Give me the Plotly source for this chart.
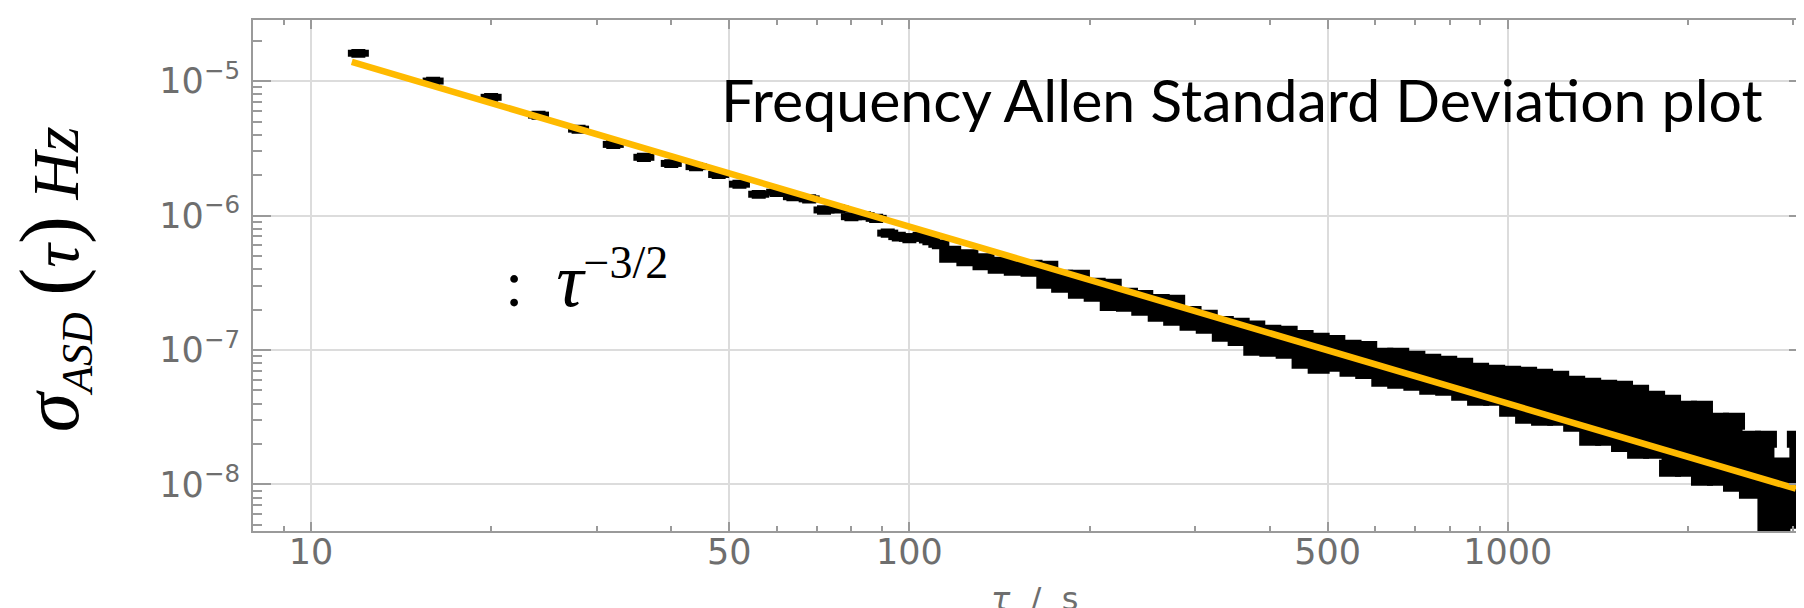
import plotly.graph_objects as go

# ---------------- data ----------------
# sparse part: individual points with small error bars (tau in s)
sparse_tau = [12, 16, 20, 24, 28, 32, 36, 40, 44, 48, 52, 56, 60, 64, 68,
              72, 76, 80, 84, 88, 92, 96, 100, 104, 108, 112]
sparse_sigma = [1.61e-5, 1.00e-5, 7.57e-6, 5.58e-6, 4.39e-6, 3.38e-6, 2.71e-6,
                2.44e-6, 2.31e-6, 2.02e-6, 1.71e-6, 1.44e-6, 1.49e-6, 1.38e-6,
                1.33e-6, 1.10e-6, 1.12e-6, 9.80e-7, 9.97e-7, 9.53e-7, 7.40e-7,
                6.97e-7, 6.77e-7, 6.97e-7, 6.58e-7, 6.11e-7]
sparse_err = [8e-7, 5e-7, 3.8e-7, 2.8e-7, 2.2e-7, 1.7e-7, 1.4e-7, 1.2e-7,
              1.2e-7, 1.0e-7, 9e-8, 7e-8, 8e-8, 7e-8, 7e-8, 6e-8, 6e-8, 5e-8,
              5e-8, 5e-8, 4e-8, 4e-8, 4e-8, 4e-8, 4e-8, 3.5e-8]

# dense part: centre value and error-bar ends
dense_tau = [117, 125, 133, 141, 150, 160, 170, 180, 192, 204, 217, 231, 245,
             261, 277, 295, 314, 334, 355, 377, 401, 427, 454, 483, 513, 546,
             580, 617, 656, 698, 742, 789, 839, 892, 949, 1009, 1073, 1141,
             1214, 1291, 1373, 1460, 1552, 1651, 1756, 1867, 1985, 2111, 2245,
             2388, 2539, 2700, 2871, 3053]
dense_sigma = [5.15e-7, 4.85e-7, 4.53e-7, 4.26e-7, 4.12e-7, 4.05e-7, 3.62e-7,
               3.24e-7, 3.08e-7, 2.80e-7, 2.57e-7, 2.36e-7, 2.24e-7, 2.06e-7,
               1.97e-7, 1.72e-7, 1.62e-7, 1.44e-7, 1.37e-7, 1.22e-7, 1.17e-7,
               1.14e-7, 1.01e-7, 9.45e-8, 9.45e-8, 8.68e-8, 8.46e-8, 7.44e-8,
               7.31e-8, 7.01e-8, 6.60e-8, 6.43e-8, 6.06e-8, 5.56e-8, 5.46e-8,
               4.93e-8, 4.61e-8, 4.45e-8, 4.38e-8, 3.98e-8, 3.47e-8, 3.41e-8,
               3.21e-8, 2.93e-8, 2.78e-8, 2.30e-8, 2.19e-8, 2.02e-8, 1.83e-8,
               1.74e-8, 1.40e-8, 1.00e-8, 8.0e-9, 1.08e-8]
dense_upper = [5.15e-7, 4.85e-7, 4.53e-7, 4.26e-7, 4.12e-7, 4.05e-7, 3.98e-7,
               3.41e-7, 3.41e-7, 2.98e-7, 2.93e-7, 2.51e-7, 2.42e-7, 2.26e-7,
               2.23e-7, 1.84e-7, 1.72e-7, 1.55e-7, 1.50e-7, 1.43e-7, 1.33e-7,
               1.31e-7, 1.22e-7, 1.16e-7, 1.12e-7, 1.03e-7, 1.01e-7, 8.98e-8,
               8.98e-8, 8.53e-8, 8.10e-8, 7.83e-8, 7.56e-8, 6.95e-8, 6.71e-8,
               6.60e-8, 6.49e-8, 6.27e-8, 6.06e-8, 5.56e-8, 5.37e-8, 5.19e-8,
               5.10e-8, 4.77e-8, 4.30e-8, 4.02e-8, 3.62e-8, 3.62e-8, 2.95e-8,
               2.95e-8, 2.17e-8, 2.17e-8, 1.37e-8, 2.17e-8]
dense_lower = [5.15e-7, 4.85e-7, 4.53e-7, 4.26e-7, 4.12e-7, 4.05e-7, 3.30e-7,
               3.08e-7, 2.78e-7, 2.64e-7, 2.26e-7, 2.23e-7, 2.08e-7, 1.88e-7,
               1.75e-7, 1.61e-7, 1.53e-7, 1.33e-7, 1.24e-7, 1.05e-7, 1.03e-7,
               9.95e-8, 8.38e-8, 7.69e-8, 7.96e-8, 7.31e-8, 7.03e-8, 6.16e-8,
               5.95e-8, 5.75e-8, 5.37e-8, 5.28e-8, 4.85e-8, 4.45e-8, 4.45e-8,
               3.69e-8, 3.27e-8, 3.16e-8, 3.16e-8, 2.85e-8, 2.24e-8, 2.24e-8,
               2.02e-8, 1.80e-8, 1.80e-8, 1.32e-8, 1.32e-8, 1.13e-8, 1.13e-8,
               1.02e-8, 9.06e-9, 3.5e-9, 3.5e-9, 5.42e-9]

# fitted power-law line (end points)
fit_tau = [11.7, 3030]
fit_sigma = [1.39e-5, 9.3e-9]

# axis ticks
x_major = [10, 50, 100, 500, 1000]
x_major_text = ["10", "50", "100", "500", "1000"]
x_minor = [9, 20, 30, 40, 60, 70, 80, 90, 200, 300, 400, 600, 700, 800, 900,
           2000, 3000]
y_major = [1e-8, 1e-7, 1e-6, 1e-5]
y_major_text = ["10<sup>\u22128</sup>", "10<sup>\u22127</sup>",
                "10<sup>\u22126</sup>", "10<sup>\u22125</sup>"]
y_minor = [5e-9, 6e-9, 7e-9, 8e-9, 9e-9,
           2e-8, 3e-8, 4e-8, 5e-8, 6e-8, 7e-8, 8e-8, 9e-8,
           2e-7, 3e-7, 4e-7, 5e-7, 6e-7, 7e-7, 8e-7, 9e-7,
           2e-6, 3e-6, 4e-6, 5e-6, 6e-6, 7e-6, 8e-6, 9e-6,
           2e-5]

# ---------------- figure ----------------
err_plus = [u - s for u, s in zip(dense_upper, dense_sigma)]
err_minus = [s - l for s, l in zip(dense_sigma, dense_lower)]

fig = go.Figure()

fig.add_trace(go.Scatter(
    x=sparse_tau, y=sparse_sigma, mode="markers",
    marker=dict(symbol="line-ew", size=15, color="black",
                line=dict(width=7, color="black")),
    error_y=dict(type="data", array=sparse_err, visible=True,
                 color="black", thickness=3, width=7),
    hoverinfo="skip"))

fig.add_trace(go.Scatter(
    x=dense_tau, y=dense_sigma, mode="markers",
    marker=dict(size=2, color="black"),
    error_y=dict(type="data", symmetric=False, array=err_plus,
                 arrayminus=err_minus, visible=True,
                 color="black", thickness=17, width=11),
    hoverinfo="skip"))

fig.add_trace(go.Scatter(
    x=fit_tau, y=fit_sigma, mode="lines",
    line=dict(color="#FFBA00", width=6.5),
    hoverinfo="skip"))

axis_grey = "#9a9a9a"
label_grey = "#6e6e6e"

fig.update_layout(
    width=1804, height=608,
    margin=dict(l=245, r=3, t=12, b=85),
    paper_bgcolor="white", plot_bgcolor="white",
    showlegend=False,
    xaxis=dict(
        type="log", range=[0.90309, 3.5],
        tickmode="array", tickvals=x_major, ticktext=x_major_text,
        ticks="inside", ticklen=9, tickwidth=1.5, tickcolor=axis_grey,
        showline=True, linecolor=axis_grey, linewidth=2, mirror="allticks",
        showgrid=True, gridcolor="#dcdcdc", gridwidth=1.5, zeroline=False,
        ticklabelstandoff=-11,
        tickfont=dict(family="DejaVu Sans", size=35, color=label_grey),
        minor=dict(tickmode="array", tickvals=x_minor, ticks="inside",
                   ticklen=5, tickwidth=1.5, tickcolor=axis_grey,
                   showgrid=False),
    ),
    yaxis=dict(
        type="log", range=[-8.346, -4.546],
        tickmode="array", tickvals=y_major, ticktext=y_major_text,
        ticks="inside", ticklen=18, tickwidth=1.5, tickcolor=axis_grey,
        showline=True, linecolor=axis_grey, linewidth=2, mirror="allticks",
        showgrid=True, gridcolor="#dcdcdc", gridwidth=1.5, zeroline=False,
        ticklabelstandoff=4,
        tickfont=dict(family="DejaVu Sans", size=35, color=label_grey),
        minor=dict(tickmode="array", tickvals=y_minor, ticks="inside",
                   ticklen=9, tickwidth=1.5, tickcolor=axis_grey,
                   showgrid=False),
    ),
)

annotations = [
    dict(text="Frequency Allen Standard Deviation plot",
         x=0.6362, y=0.845, xref="paper", yref="paper",
         xanchor="center", yanchor="middle", showarrow=False,
         font=dict(family="Lato", size=59, color="black")),
    dict(text=":&nbsp;&nbsp;<span style='font-size:76px'><i>\u03c4</i></span>"
              "<sup><span style='font-size:46px'>\u22123/2</span></sup>",
         x=0.1607, y=0.4912, xref="paper", yref="paper",
         xanchor="left", yanchor="middle", showarrow=False,
         font=dict(family="Liberation Serif", size=66, color="black")),
    dict(text="<span style='font-size:80px'><i>\u03c3</i></span>"
              "<sub><span style='font-size:44px'><i>ASD</i></span></sub>"
              "&nbsp;<span style='font-size:84px'>(</span>"
              "<i>\u03c4</i>"
              "<span style='font-size:84px'>)</span>&nbsp;<i>Hz</i>",
         x=-0.1285, y=0.4932, xref="paper", yref="paper",
         xanchor="center", yanchor="middle", textangle=-90, showarrow=False,
         font=dict(family="Liberation Serif", size=66, color="black")),
    dict(text="<i>\u03c4</i>&nbsp;&nbsp;/&nbsp;&nbsp;s",
         x=0.5032, y=-0.133, xref="paper", yref="paper",
         xanchor="center", yanchor="middle", showarrow=False,
         font=dict(family="DejaVu Sans", size=32, color=label_grey)),
]
fig.update_layout(annotations=annotations)

fig.write_html("out.html")
